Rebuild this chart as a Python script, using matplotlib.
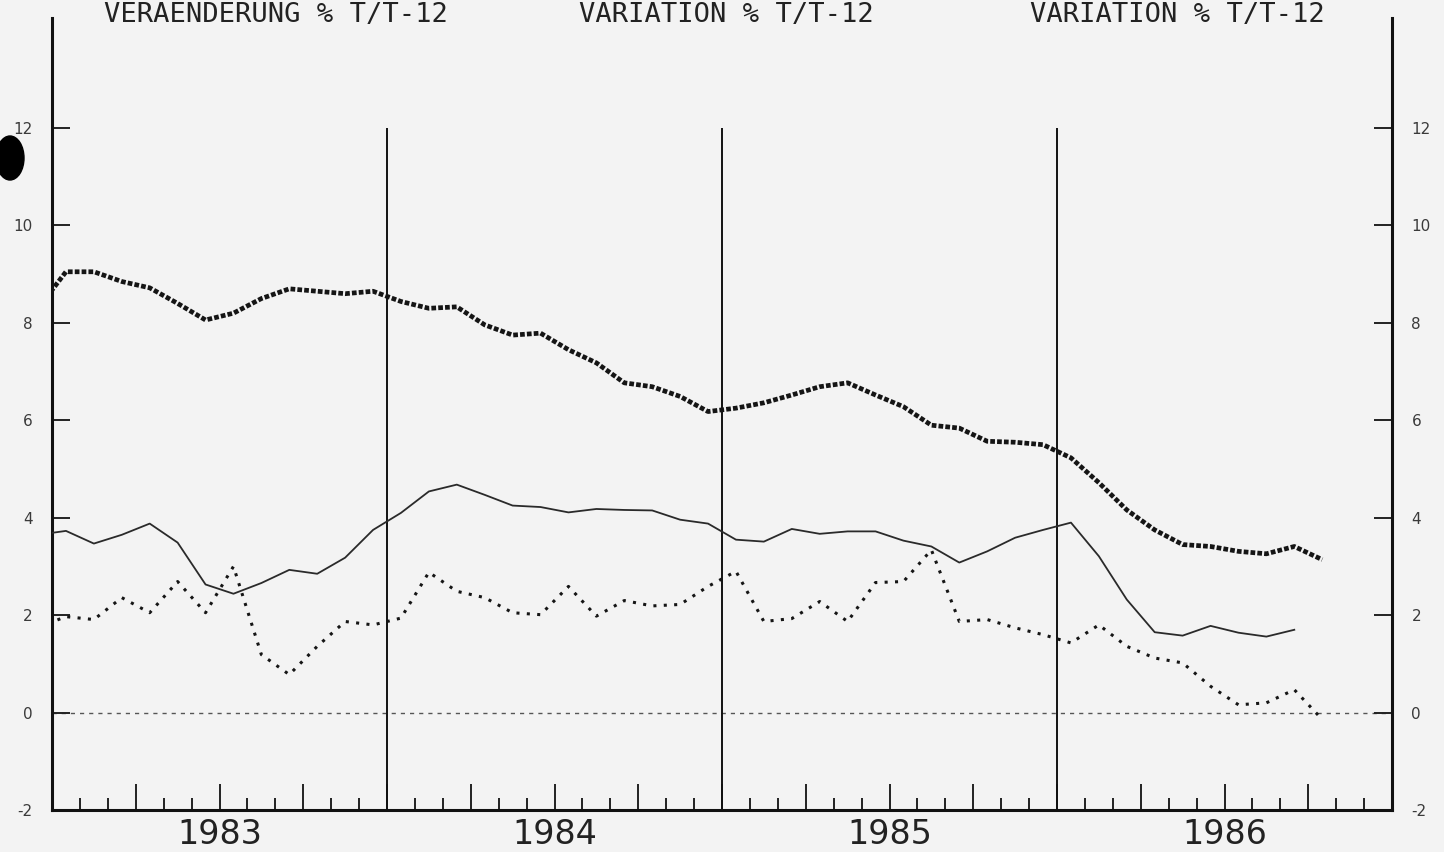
import matplotlib
matplotlib.use("Agg")
import matplotlib.pyplot as plt
from matplotlib.ticker import FixedLocator, NullFormatter
from matplotlib.patches import Ellipse
import numpy as np

# ---- data (monthly, Dec 1982 .. ), year-on-year % change ----
start_year = 1982
start_month = 12  # December 1982
series_thick = [8.3, 9.05, 9.05, 8.85, 8.72, 8.4, 8.06, 8.2, 8.5, 8.7, 8.65, 8.6, 8.65,
                8.44, 8.3, 8.33, 7.96, 7.75, 7.79, 7.45, 7.18, 6.77, 6.69, 6.49, 6.18,
                6.25, 6.36, 6.52, 6.69, 6.77, 6.52, 6.28, 5.9, 5.84, 5.57, 5.55, 5.5,
                5.23, 4.72, 4.16, 3.75, 3.45, 3.41, 3.31, 3.26, 3.41, 3.14]
series_solid = [3.65, 3.73, 3.47, 3.65, 3.88, 3.49, 2.63, 2.44, 2.66, 2.93, 2.85, 3.18, 3.75,
                4.1, 4.54, 4.68, 4.47, 4.25, 4.22, 4.11, 4.18, 4.16, 4.15, 3.96, 3.88,
                3.55, 3.51, 3.77, 3.67, 3.72, 3.72, 3.53, 3.41, 3.08, 3.31, 3.59, 3.75,
                3.9, 3.21, 2.32, 1.65, 1.58, 1.78, 1.64, 1.56, 1.70]
series_dotted = [1.75, 1.97, 1.91, 2.36, 2.05, 2.69, 2.05, 3.0, 1.19, 0.78, 1.36, 1.87, 1.8,
                 1.94, 2.88, 2.49, 2.36, 2.05, 2.01, 2.59, 1.98, 2.3, 2.19, 2.22, 2.59,
                 2.9, 1.87, 1.93, 2.28, 1.87, 2.67, 2.69, 3.34, 1.87, 1.91, 1.74, 1.6,
                 1.43, 1.8, 1.36, 1.12, 1.02, 0.54, 0.16, 0.2, 0.47, -0.14]

years = [1983, 1984, 1985, 1986]
year_labels = ["1983", "1984", "1985", "1986"]
yticks = [-2, 0, 2, 4, 6, 8, 10, 12]
ytick_labels = ["-2", "0", "2", "4", "6", "8", "10", "12"]
titles = ["VERAENDERUNG % T/T-12", "VARIATION % T/T-12", "VARIATION % T/T-12"]


def month_x(n):
    # mid-month positions in fractional years
    base = start_year + (start_month - 1) / 12.0
    return base + (np.arange(n) + 0.5) / 12.0


bg = "#f3f3f3"
fig = plt.figure(figsize=(14.44, 8.52), dpi=100, facecolor=bg)
ax = fig.add_axes([52 / 1444, 1 - 810 / 852, (1392 - 52) / 1444, (810 - 18) / 852])
ax.set_facecolor(bg)

ax.set_xlim(years[0], years[-1] + 1)
ax.set_ylim(-2, 14.26)

# zero reference line
ax.axhline(0, color="#555555", lw=1.0, ls=(0, (3, 3.6)), zorder=1)

# year separator lines
ax.vlines(years[1:], -2, 12, color="#111111", lw=1.4, zorder=2)

ink = "#151515"
ax.plot(month_x(len(series_thick)), series_thick, color=ink, lw=3.4,
        ls=(0, (1.0, 0.45)), zorder=4)
ax.plot(month_x(len(series_solid)), series_solid, color="#2a2a2a", lw=1.3,
        zorder=3)
ax.plot(month_x(len(series_dotted)), series_dotted, color=ink, lw=2.2,
        ls=(0, (1.0, 2.4)), zorder=3)

# spines
for s in ["left", "right", "bottom"]:
    ax.spines[s].set_linewidth(2.2)
    ax.spines[s].set_color("#111111")
ax.spines["top"].set_visible(False)

# y ticks both sides, inward
ax.yaxis.set_major_locator(FixedLocator(yticks))
ax.set_yticklabels(ytick_labels)
ax.tick_params(axis="y", which="major", direction="in", length=13, width=1.4,
               left=True, right=True, labelleft=True, labelright=True,
               labelsize=11, labelcolor="#3a3a3a", color="#222222", pad=14)

# x ticks: quarters long, months short
quarters = [y + q / 4 for y in years for q in range(4)] + [years[-1] + 1]
months = [y + m / 12 for y in years for m in range(12)]
ax.xaxis.set_major_locator(FixedLocator(quarters))
ax.xaxis.set_minor_locator(FixedLocator(months))
ax.xaxis.set_major_formatter(NullFormatter())
ax.xaxis.set_minor_formatter(NullFormatter())
ax.tick_params(axis="x", which="major", direction="in", length=19, width=1.4,
               color="#222222")
ax.tick_params(axis="x", which="minor", direction="in", length=8.5, width=1.4,
               color="#222222")

# year labels under the axis (centre ~25 px below the bottom spine)
for yr, lab in zip(years, year_labels):
    ax.text(yr + 0.5, -25 / 792, lab, transform=ax.get_xaxis_transform(),
            ha="center", va="center", fontsize=24, color="#222222",
            family="DejaVu Sans")

# header titles
for xc, t in zip([276, 726, 1177], titles):
    fig.text(xc / 1444, 1 - 15 / 852, t, ha="center", va="center",
             fontsize=19.5, family="DejaVu Sans Mono", color="#222222")

# punch-hole mark at left edge of the scan
fig.patches.append(Ellipse((10 / 1444, 1 - 158 / 852), 28 / 1444, 44 / 852,
                           transform=fig.transFigure, color="black", zorder=10))

fig.savefig("out.png", dpi=100, facecolor=bg)
